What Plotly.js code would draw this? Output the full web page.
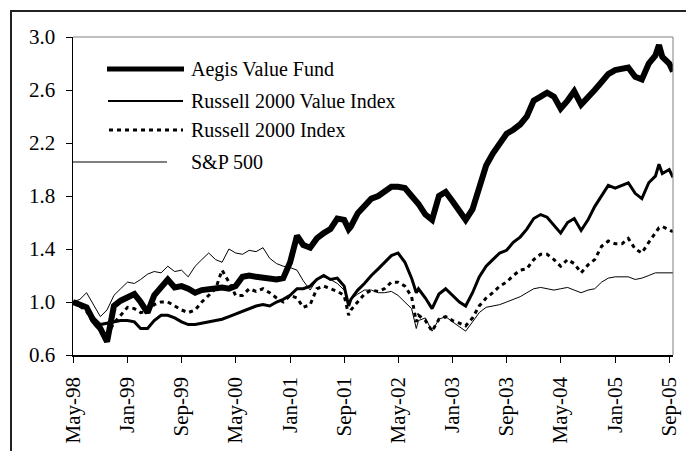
<!DOCTYPE html>
<html>
<head>
<meta charset="utf-8">
<script src="https://cdn.plot.ly/plotly-3.0.1.min.js"></script>
<style>
  html, body { margin: 0; padding: 0; background: #fff; overflow: hidden; }
  #wrap { position: relative; width: 686px; height: 451px; overflow: hidden; }
  #chart { width: 686px; height: 451px; }
  #frame { position: absolute; left: 10px; top: 10px; width: 700px; height: 470px;
           border-top: 2px solid #222; border-left: 2px solid #222; pointer-events: none; box-sizing: border-box; }
</style>
</head>
<body>
<div id="wrap">
<div id="chart"></div>
<div id="frame"></div>
</div>
<script>
// ---- Data ----
const dates = [
  "1998-05-01","1998-06-01","1998-07-01","1998-08-01","1998-09-01","1998-10-01","1998-11-01","1998-12-01",
  "1999-01-01","1999-02-01","1999-03-01","1999-04-01","1999-05-01","1999-06-01","1999-07-01","1999-08-01",
  "1999-09-01","1999-10-01","1999-11-01","1999-12-01",
  "2000-01-01","2000-02-01","2000-03-01","2000-04-01","2000-05-01","2000-06-01","2000-07-01","2000-08-01",
  "2000-09-01","2000-10-01","2000-11-01","2000-12-01",
  "2001-01-01","2001-02-01","2001-03-01","2001-04-01","2001-05-01","2001-06-01","2001-07-01","2001-08-01",
  "2001-09-01","2001-09-21","2001-10-01","2001-11-01","2001-12-01",
  "2002-01-01","2002-02-01","2002-03-01","2002-04-01","2002-05-01","2002-06-01","2002-07-01","2002-07-22",
  "2002-08-01","2002-09-01","2002-10-01","2002-11-01","2002-12-01",
  "2003-01-01","2003-02-01","2003-03-01","2003-04-01","2003-05-01","2003-06-01","2003-07-01","2003-08-01",
  "2003-09-01","2003-10-01","2003-11-01","2003-12-01",
  "2004-01-01","2004-02-01","2004-03-01","2004-04-01","2004-05-01","2004-06-01","2004-07-01","2004-08-01",
  "2004-09-01","2004-10-01","2004-11-01","2004-12-01",
  "2005-01-01","2005-02-01","2005-03-01","2005-04-01","2005-05-01","2005-06-01","2005-07-01","2005-07-17",
  "2005-08-01","2005-09-01","2005-09-18"
];

const aegisValueFund = [
  1.00,0.98,0.96,0.86,0.80,0.70,0.97,1.01,
  1.03,1.06,1.00,0.92,1.05,1.12,1.17,1.11,
  1.12,1.10,1.07,1.09,
  1.10,1.10,1.11,1.10,1.12,1.19,1.20,1.19,
  1.18,1.18,1.17,1.18,
  1.30,1.50,1.43,1.41,1.48,1.52,1.55,1.63,
  1.62,1.55,1.57,1.67,1.72,
  1.78,1.80,1.84,1.87,1.87,1.86,1.80,1.76,
  1.74,1.66,1.62,1.80,1.83,
  1.76,1.68,1.62,1.70,1.85,2.03,2.12,2.20,
  2.27,2.30,2.34,2.40,
  2.52,2.55,2.58,2.55,2.46,2.52,2.59,2.49,
  2.54,2.60,2.66,2.72,
  2.75,2.76,2.77,2.70,2.68,2.80,2.86,2.94,
  2.85,2.80,2.74
];

const russell2000Value = [
  1.00,0.98,0.95,0.88,0.83,0.84,0.85,0.86,
  0.86,0.85,0.80,0.80,0.86,0.90,0.90,0.88,
  0.85,0.83,0.83,0.84,
  0.85,0.86,0.87,0.89,0.91,0.93,0.95,0.97,
  0.98,0.97,1.00,1.02,
  1.05,1.10,1.10,1.12,1.17,1.20,1.17,1.18,
  1.12,0.97,1.02,1.09,1.14,
  1.20,1.25,1.30,1.35,1.37,1.30,1.18,1.07,
  1.10,1.03,0.95,1.06,1.10,
  1.05,1.00,0.97,1.07,1.19,1.27,1.32,1.37,
  1.39,1.45,1.49,1.55,
  1.63,1.66,1.64,1.58,1.52,1.60,1.63,1.54,
  1.62,1.72,1.80,1.88,
  1.86,1.88,1.90,1.82,1.78,1.90,1.95,2.04,
  1.97,2.00,1.94
];

const russell2000 = [
  1.00,0.97,0.93,0.84,0.79,0.75,0.84,0.90,
  0.96,0.95,0.92,0.93,0.98,1.00,1.00,0.97,
  0.94,0.92,0.94,1.00,
  1.05,1.10,1.24,1.15,1.05,1.05,1.10,1.08,
  1.10,1.07,1.03,1.00,
  1.05,1.03,0.96,0.98,1.10,1.12,1.10,1.08,
  1.05,0.90,0.94,1.00,1.06,
  1.09,1.08,1.10,1.15,1.15,1.12,1.04,0.85,
  0.90,0.86,0.78,0.87,0.89,
  0.86,0.84,0.82,0.88,0.97,1.03,1.07,1.12,
  1.15,1.20,1.24,1.25,
  1.32,1.36,1.36,1.32,1.27,1.32,1.29,1.22,
  1.28,1.32,1.42,1.46,
  1.44,1.44,1.48,1.40,1.37,1.45,1.52,1.56,
  1.57,1.54,1.53
];

const sp500 = [
  1.00,1.02,1.07,0.98,0.89,0.94,1.05,1.10,
  1.15,1.14,1.17,1.21,1.23,1.22,1.27,1.23,
  1.24,1.19,1.27,1.32,
  1.37,1.32,1.30,1.40,1.37,1.36,1.39,1.38,
  1.41,1.33,1.29,1.27,
  1.26,1.24,1.16,1.09,1.17,1.19,1.17,1.14,
  1.09,1.00,1.02,1.06,1.09,
  1.09,1.07,1.07,1.08,1.05,1.00,0.95,0.80,
  0.86,0.88,0.78,0.87,0.89,
  0.85,0.81,0.78,0.85,0.92,0.96,0.97,0.98,
  1.00,1.02,1.04,1.07,
  1.10,1.11,1.10,1.09,1.10,1.11,1.09,1.07,
  1.09,1.10,1.15,1.18,
  1.19,1.19,1.19,1.17,1.18,1.20,1.22,1.22,
  1.22,1.22,1.22
];

const seriesNames = ["Aegis Value Fund", "Russell 2000 Value Index", "Russell 2000 Index", "S&P 500"];
const xTickVals = ["1998-05-01","1999-01-01","1999-09-01","2000-05-01","2001-01-01","2001-09-01",
                   "2002-05-01","2003-01-01","2003-09-01","2004-05-01","2005-01-01","2005-09-01"];
const xTickText = ["May-98","Jan-99","Sep-99","May-00","Jan-01","Sep-01",
                   "May-02","Jan-03","Sep-03","May-04","Jan-05","Sep-05"];
const yTickVals = [0.6, 1.0, 1.4, 1.8, 2.2, 2.6, 3.0];

// ---- Traces ----
const FONT = "Liberation Serif, Times New Roman, serif";
const traces = [
  { x: dates, y: sp500, name: seriesNames[3], type: "scatter", mode: "lines",
    line: { color: "#000", width: 1 } },
  { x: dates, y: russell2000, name: seriesNames[2], type: "scatter", mode: "lines",
    line: { color: "#000", width: 3, dash: "4px,4px" } },
  { x: dates, y: russell2000Value, name: seriesNames[1], type: "scatter", mode: "lines",
    line: { color: "#000", width: 3 } },
  { x: dates, y: aegisValueFund, name: seriesNames[0], type: "scatter", mode: "lines",
    line: { color: "#000", width: 6 } }
];

// manual legend (samples + labels), paper coordinates
const px = v => (v - 73) / 600;
const py = v => (355 - v) / 318;
const legendRows = [
  { y: 69,  x0: 107, x1: 184, w: 5, dash: "solid" },
  { y: 101, x0: 108, x1: 183, w: 2, dash: "solid" },
  { y: 130, x0: 109, x1: 183, w: 3, dash: "4px,4px" },
  { y: 162, x0: 73,  x1: 167, w: 1, dash: "solid" }
];
const shapes = [
  // plot area top/right border (gray)
  { type: "line", xref: "paper", yref: "paper", x0: 0, x1: 1, y0: 1, y1: 1, line: { color: "#808080", width: 1 } },
  { type: "line", xref: "paper", yref: "paper", x0: 1, x1: 1, y0: 0, y1: 1, line: { color: "#808080", width: 1 } }
];
const annotations = [];
legendRows.forEach((r, i) => {
  shapes.push({ type: "line", xref: "paper", yref: "paper", x0: px(r.x0), x1: px(r.x1), y0: py(r.y), y1: py(r.y),
    line: { color: "#000", width: r.w, dash: r.dash } });
  annotations.push({ xref: "paper", yref: "paper", x: px(189), y: py(r.y), xanchor: "left", yanchor: "middle",
    text: seriesNames[i], showarrow: false, font: { family: FONT, size: 20, color: "#000" } });
});

const layout = {
  width: 686, height: 451,
  margin: { l: 73, r: 13, t: 37, b: 96, pad: 0 },
  paper_bgcolor: "#fff", plot_bgcolor: "#fff",
  showlegend: false,
  font: { family: FONT, size: 20, color: "#000" },
  xaxis: {
    type: "date", range: ["1998-05-01", "2005-09-18"],
    tickmode: "array", tickvals: xTickVals, ticktext: xTickText, tickangle: -90,
    ticks: "outside", ticklen: 6, tickwidth: 1, tickcolor: "#000",
    showline: true, linecolor: "#000", linewidth: 1.5, showgrid: false, zeroline: false,
    tickfont: { family: FONT, size: 21, color: "#000" }, ticklabelstandoff: 6
  },
  yaxis: {
    range: [0.6, 3.0], tickmode: "array", tickvals: yTickVals, tickformat: ".1f",
    ticks: "outside", ticklen: 6, tickwidth: 1, tickcolor: "#000",
    showline: true, linecolor: "#000", linewidth: 1.5, showgrid: false, zeroline: false,
    tickfont: { family: FONT, size: 21, color: "#000" }, ticklabelstandoff: 6
  },
  shapes: shapes,
  annotations: annotations
};

Plotly.newPlot("chart", traces, layout, { staticPlot: true, displayModeBar: false });
</script>
</body>
</html>
